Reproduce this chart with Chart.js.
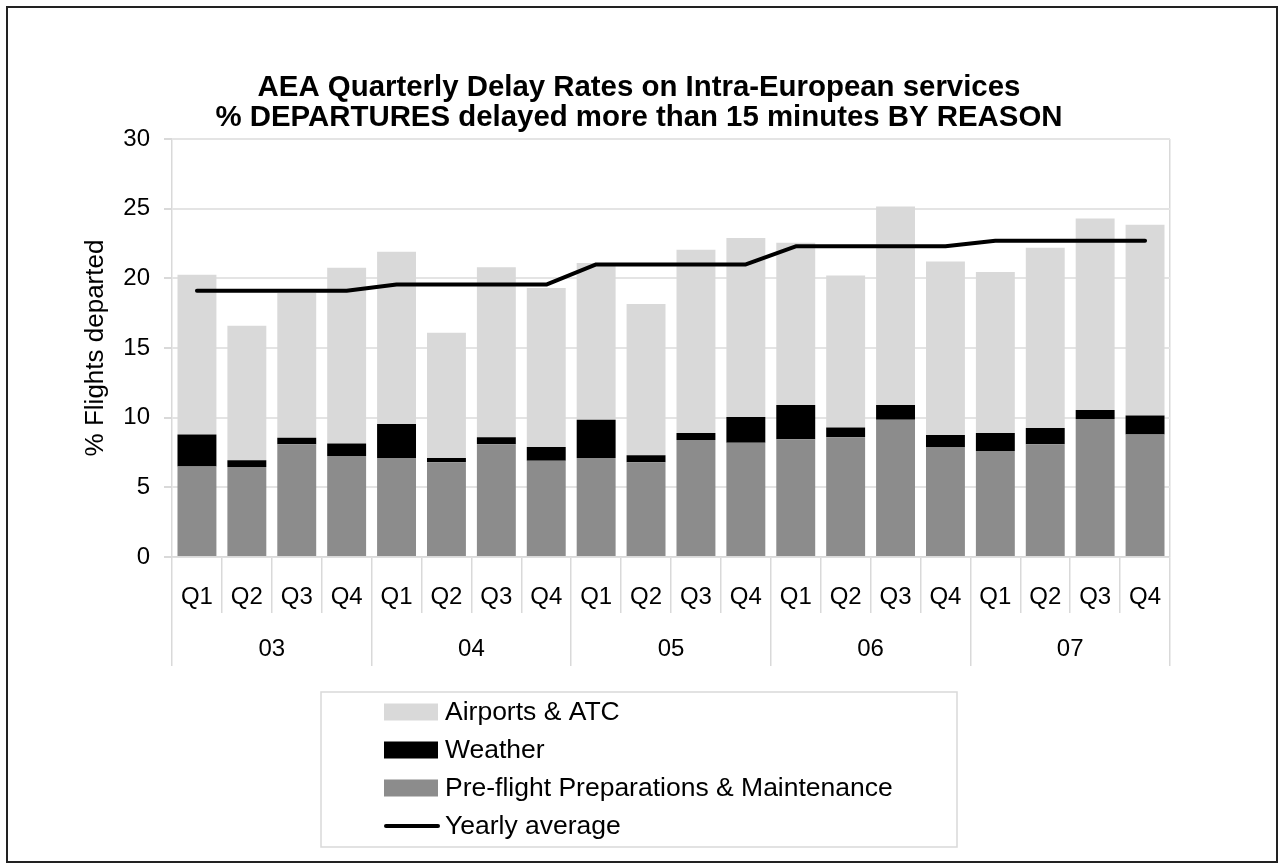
<!DOCTYPE html>
<html><head><meta charset="utf-8">
<script src="https://cdn.jsdelivr.net/npm/chart.js@4.4.1/dist/chart.umd.min.js"></script>
<style>html,body{margin:0;padding:0;background:#fff}canvas{display:block}</style>
</head><body>
<canvas id="c" width="1278" height="867"></canvas>
<script>
// ---- data ----
const quarters = ['Q1','Q2','Q3','Q4','Q1','Q2','Q3','Q4','Q1','Q2','Q3','Q4','Q1','Q2','Q3','Q4','Q1','Q2','Q3','Q4'];
const years = ['03','04','05','06','07'];
const preflight   = [6.5, 6.45, 8.1, 7.25, 7.1, 6.8, 8.1, 6.9, 7.1, 6.8, 8.4, 8.2, 8.45, 8.6, 9.85, 7.9, 7.6, 8.1, 9.9, 8.8];
const weather     = [2.3, 0.5, 0.45, 0.9, 2.45, 0.3, 0.5, 1.0, 2.75, 0.5, 0.5, 1.85, 2.45, 0.7, 1.05, 0.85, 1.3, 1.15, 0.65, 1.35];
const airportsATC = [11.45, 9.65, 10.4, 12.6, 12.35, 9.0, 12.2, 11.4, 11.25, 10.85, 13.15, 12.85, 11.65, 10.9, 14.25, 12.45, 11.55, 12.95, 13.75, 13.7];
const yearlyAverage = [19.1, 19.1, 19.1, 19.1, 19.55, 19.55, 19.55, 19.55, 21.0, 21.0, 21.0, 21.0, 22.3, 22.3, 22.3, 22.3, 22.7, 22.7, 22.7, 22.7];
const yTicks = [0, 5, 10, 15, 20, 25, 30];
const titleLines = ['AEA Quarterly Delay Rates on Intra-European services', '% DEPARTURES delayed more than 15 minutes BY REASON'];
const yTitle = '% Flights departed';
const names = { atc: 'Airports & ATC', weather: 'Weather', pre: 'Pre-flight Preparations & Maintenance', avg: 'Yearly average' };

const FONT = '"Liberation Sans", Arial, Helvetica, sans-serif';
const GRID = '#e4e4e4';
const AXIS = '#d9d9d9';

const framePlugin = {
  id: 'frame',
  beforeDraw(chart) {
    const ctx = chart.ctx;
    ctx.save();
    ctx.fillStyle = '#fff';
    ctx.fillRect(0, 0, chart.width, chart.height);
    ctx.strokeStyle = '#222';
    ctx.lineWidth = 2;
    ctx.strokeRect(7, 7, 1270, 855);
    ctx.restore();
  }
};

const boxLegend = {
  id: 'boxLegend',
  afterDraw(chart, args, o) {
    const ctx = chart.ctx;
    ctx.save();
    ctx.strokeStyle = AXIS; ctx.lineWidth = 1.5;
    ctx.strokeRect(o.x, o.y, o.w, o.h);
    ctx.font = o.font;
    ctx.textBaseline = 'middle';
    ctx.textAlign = 'left';
    o.order.forEach((di, k) => {
      const ds = chart.data.datasets[di];
      const cy = o.firstY + k * o.step;
      if (ds.type === 'line') {
        ctx.strokeStyle = ds.borderColor; ctx.lineWidth = 4; ctx.lineCap = 'round';
        ctx.beginPath(); ctx.moveTo(o.sx + 2, cy); ctx.lineTo(o.sx + o.sw, cy); ctx.stroke();
      } else {
        ctx.fillStyle = ds.backgroundColor;
        ctx.fillRect(o.sx, cy - 8.5, o.sw, 17);
      }
      ctx.fillStyle = '#000';
      ctx.fillText(ds.label, o.tx, cy + 1);
    });
    ctx.restore();
  }
};

Chart.defaults.color = '#000';
Chart.defaults.font.family = FONT;

new Chart(document.getElementById('c'), {
  data: {
    labels: quarters,
    datasets: [
      { type: 'bar', label: names.pre, data: preflight, backgroundColor: '#8c8c8c', stack: 's', order: 1 },
      { type: 'bar', label: names.weather, data: weather, backgroundColor: '#000000', stack: 's', order: 1 },
      { type: 'bar', label: names.atc, data: airportsATC, backgroundColor: '#d9d9d9', stack: 's', order: 1 },
      { type: 'line', label: names.avg, data: yearlyAverage, borderColor: '#000', backgroundColor: '#000', borderWidth: 4,
        pointRadius: 0, tension: 0, borderCapStyle: 'round', borderJoinStyle: 'round', order: 0 }
    ]
  },
  options: {
    responsive: false,
    animation: false,
    events: [],
    datasets: { bar: { barPercentage: 0.78, categoryPercentage: 1.0 } },
    layout: { padding: { left: 80, right: 80, top: 0, bottom: 201 } },
    plugins: {
      legend: { display: false },
      tooltip: { enabled: false },
      title: {
        display: true, text: titleLines, color: '#000',
        font: { size: 29.4, weight: 'bold', family: FONT, lineHeight: 1.02 },
        padding: { top: 73, bottom: 6 }
      },
      boxLegend: {
        x: 321, y: 692, w: 636, h: 155,
        order: [2, 1, 0, 3],
        firstY: 712, step: 38,
        sx: 384, sw: 54, tx: 445,
        font: '26.5px ' + FONT
      }
    },
    scales: {
      x: {
        type: 'category', stacked: true, offset: true, weight: 0,
        grid: { offset: true, drawOnChartArea: true, drawTicks: true, tickLength: 56,
                color: (c) => c.type === 'tick' ? 'rgba(0,0,0,0)' : AXIS, tickColor: AXIS, lineWidth: 1.5 },
        border: { display: true, color: AXIS, width: 1.5 },
        ticks: { font: { size: 24 }, padding: -30.4, maxRotation: 0, autoSkip: false },
        afterFit: (s) => { s.height = 56; }
      },
      x2: {
        type: 'category', labels: years, position: 'bottom', offset: true, weight: 1,
        grid: { offset: true, drawOnChartArea: false, drawTicks: true, tickLength: 53, color: AXIS, tickColor: AXIS, lineWidth: 1.5 },
        border: { display: false },
        ticks: { font: { size: 24 }, padding: -31.4, maxRotation: 0 },
        afterFit: (s) => { s.height = 53; }
      },
      y: {
        stacked: true, min: yTicks[0], max: yTicks[yTicks.length - 1],
        afterBuildTicks: (s) => { s.ticks = yTicks.map(v => ({ value: v })); },
        grid: { color: GRID, lineWidth: 2, tickLength: 8, tickColor: AXIS },
        border: { display: true, color: AXIS, width: 1.5 },
        ticks: { font: { size: 24 }, padding: 14 },
        title: { display: true, text: yTitle, font: { size: 26 }, padding: 0 },
        afterFit: (s) => { s.width = 92; }
      },
      yPad: {
        type: 'linear', position: 'right', display: true, min: 0, max: 1,
        grid: { display: false, drawOnChartArea: false },
        border: { display: false },
        ticks: { display: false },
        afterFit: (s) => { s.width = 28; }
      }
    }
  },
  plugins: [framePlugin, boxLegend]
});
</script>
</body></html>
